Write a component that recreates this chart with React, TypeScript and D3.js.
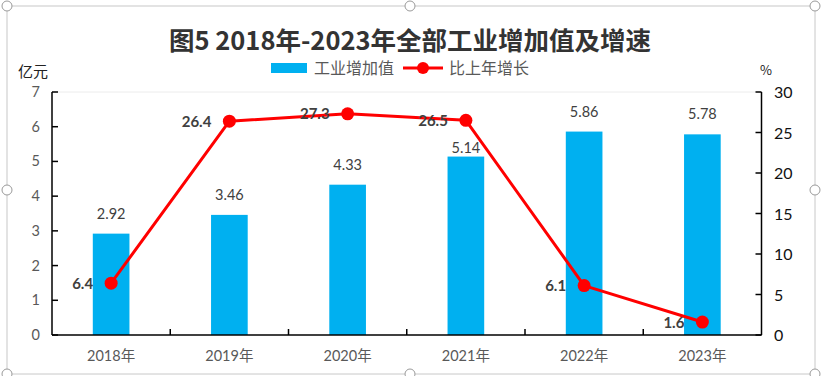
import React from "react";
import * as d3 from "d3";

const categories = ["2018年", "2019年", "2020年", "2021年", "2022年", "2023年"];
const valueAdded = [2.92, 3.46, 4.33, 5.14, 5.86, 5.78];
const growth = [6.4, 26.4, 27.3, 26.5, 6.1, 1.6];
const leftTicks = [0, 1, 2, 3, 4, 5, 6, 7];
const rightTicks = [0, 5, 10, 15, 20, 25, 30];

const W = 821;
const H = 376;
const plot = { left: 52, right: 761.5, top: 92, bottom: 335 };
const FONT = "Lato, 'Noto Sans CJK SC', sans-serif";
const CJK = "'Noto Sans CJK SC', Lato, sans-serif";
const GRAY = "#595959";
const DARK = "#404040";
const BLUE = "#00B0F0";
const RED = "#FF0000";
// label nudge (px, downward) for bar labels that Excel user moved manually
const barLabelNudge: Record<string, number> = { "2021年": 11 };

export default function App() {
  const x = d3.scaleBand<string>().domain(categories).range([plot.left, plot.right]).padding(0);
  const yL = d3.scaleLinear().domain([0, 7]).range([plot.bottom, plot.top]);
  const yR = d3.scaleLinear().domain([0, 30]).range([plot.bottom, plot.top]);
  const bw = x.bandwidth() * 0.31;
  const cx = (c: string) => (x(c) as number) + x.bandwidth() / 2;

  const line = d3
    .line<number>()
    .x((_, i) => cx(categories[i]))
    .y((d) => yR(d));

  const handles = [
    [7, 6], [410, 6], [815, 6],
    [7, 190], [815, 190],
    [7, 374], [410, 374], [815, 374],
  ];

  return (
    <svg
      width={W}
      height={H}
      style={{ position: "absolute", left: 0, top: 0, background: "#fff" }}
    >
      <rect x={0} y={0} width={W} height={H} fill="#fff" />
      {/* chart frame */}
      <rect x={7} y={6} width={808} height={368} fill="none" stroke="#c8c8c8" strokeWidth={1} />

      {/* title */}
      <text
        x={410}
        y={50}
        textAnchor="middle"
        fontFamily={CJK}
        fontWeight="bold"
        fontSize={25.5}
        fill="#333"
      >
        图5 2018年-2023年全部工业增加值及增速
      </text>

      {/* legend */}
      <rect x={271} y={63} width={36} height={10} fill={BLUE} />
      <text x={314} y={74} fontFamily={CJK} fontSize={16} fill={GRAY}>
        工业增加值
      </text>
      <line x1={403} x2={443} y1={68} y2={68} stroke={RED} strokeWidth={3} />
      <circle cx={423} cy={68} r={6} fill={RED} />
      <text x={449} y={74} fontFamily={CJK} fontSize={16} fill={GRAY}>
        比上年增长
      </text>

      {/* axis unit labels */}
      <text x={18} y={77} fontFamily={CJK} fontSize={15} fill="#222">亿元</text>
      <text x={760} y={75} fontFamily={CJK} fontSize={13} fill="#222">%</text>

      {/* top border of plot */}
      <line x1={plot.left} x2={plot.right} y1={plot.top} y2={plot.top} stroke="#ececec" strokeWidth={1} />

      {/* bars */}
      {categories.map((c, i) => (
        <rect
          key={c}
          x={cx(c) - bw / 2}
          y={yL(valueAdded[i])}
          width={bw}
          height={plot.bottom - yL(valueAdded[i])}
          fill={BLUE}
        />
      ))}

      {/* left axis */}
      <line x1={plot.left} x2={plot.left} y1={plot.top} y2={plot.bottom} stroke="#000" strokeWidth={1.5} />
      {leftTicks.map((t) => (
        <g key={"l" + t}>
          <line x1={plot.left} x2={plot.left + 6} y1={yL(t)} y2={yL(t)} stroke="#000" strokeWidth={1.5} />
          <text x={40} y={yL(t) + 5} textAnchor="end" fontFamily={FONT} fontSize={14.5} fill={GRAY}>
            {t}
          </text>
        </g>
      ))}

      {/* right axis */}
      <line x1={plot.right} x2={plot.right} y1={plot.top} y2={plot.bottom} stroke="#000" strokeWidth={1.5} />
      {rightTicks.map((t) => (
        <g key={"r" + t}>
          <line x1={plot.right - 6} x2={plot.right} y1={yR(t)} y2={yR(t)} stroke="#000" strokeWidth={1.5} />
          <text x={774} y={yR(t) + 6} textAnchor="start" fontFamily={FONT} fontSize={16} fill="#111">
            {t}
          </text>
        </g>
      ))}

      {/* bottom axis */}
      <line x1={plot.left} x2={plot.right} y1={plot.bottom} y2={plot.bottom} stroke="#000" strokeWidth={1.5} />
      {categories.slice(1).map((c) => (
        <line
          key={"bt" + c}
          x1={x(c) as number}
          x2={x(c) as number}
          y1={plot.bottom - 6}
          y2={plot.bottom}
          stroke="#000"
          strokeWidth={1.5}
        />
      ))}
      {categories.map((c) => (
        <text key={"cl" + c} x={cx(c)} y={361} textAnchor="middle" fontFamily={FONT} fontSize={14.5} fill={GRAY}>
          {c}
        </text>
      ))}

      {/* bar labels */}
      {categories.map((c, i) => (
        <text
          key={"bl" + c}
          x={cx(c)}
          y={yL(valueAdded[i]) - 15 + (barLabelNudge[c] || 0)}
          textAnchor="middle"
          fontFamily={FONT}
          fontSize={14.5}
          fill={DARK}
        >
          {valueAdded[i].toFixed(2)}
        </text>
      ))}

      {/* growth line */}
      <path d={line(growth) || ""} fill="none" stroke={RED} strokeWidth={3} strokeLinejoin="round" />
      {growth.map((g, i) => (
        <circle key={"pt" + i} cx={cx(categories[i])} cy={yR(g)} r={6.5} fill={RED} />
      ))}
      {growth.map((g, i) => (
        <text
          key={"gl" + i}
          x={cx(categories[i]) - 18}
          y={yR(g) + 5.5}
          textAnchor="end"
          fontFamily={FONT}
          fontWeight="bold"
          fontSize={15}
          fill={DARK}
        >
          {g.toFixed(1)}
        </text>
      ))}

      {/* selection handles */}
      {handles.map(([hx, hy], i) => (
        <circle key={"h" + i} cx={hx} cy={hy} r={5} fill="#fff" stroke="#9a9a9a" strokeWidth={1} />
      ))}
    </svg>
  );
}
